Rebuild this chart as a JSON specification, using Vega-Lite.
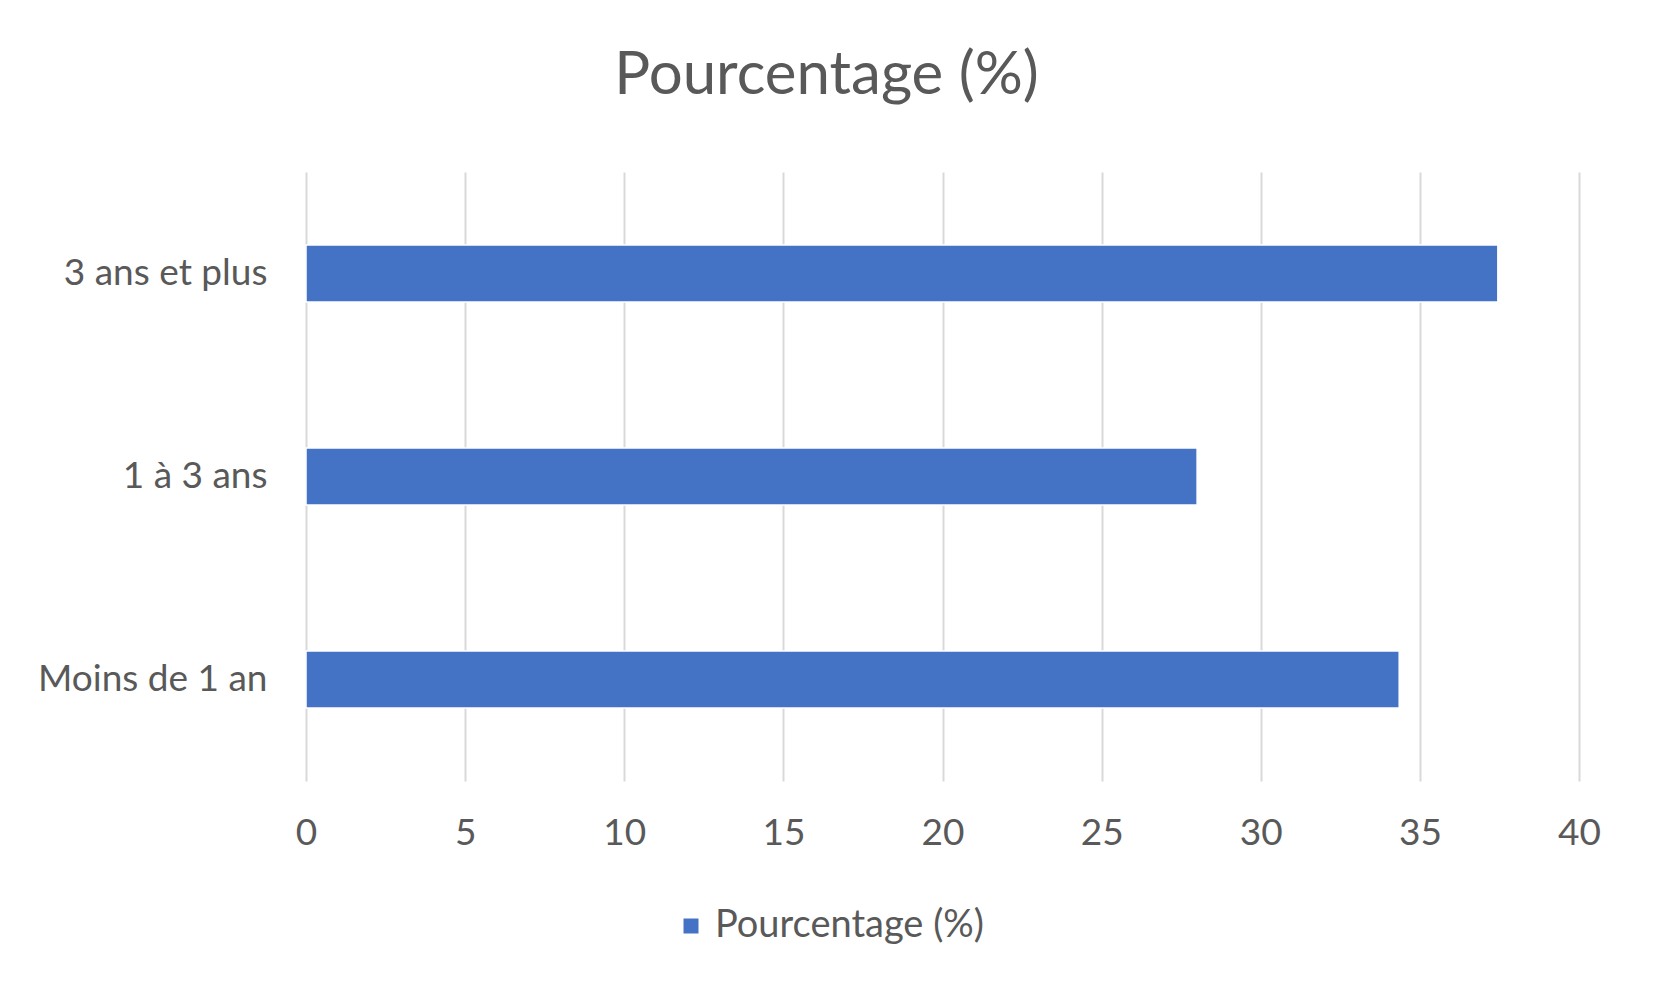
{
  "$schema": "https://vega.github.io/schema/vega-lite/v6.json",
  "width": 1273,
  "height": 609,
  "autosize": {"type": "none"},
  "padding": {"left": 306, "top": 172, "right": 74, "bottom": 212},
  "background": "white",
  "title": {
    "text": "Pourcentage (%)",
    "font": "Lato",
    "fontSize": 60,
    "fontWeight": "normal",
    "color": "#595959",
    "anchor": "middle",
    "frame": "group",
    "dx": -116,
    "offset": 65
  },
  "data": {
    "values": [
      {"categorie": "3 ans et plus", "pourcentage": 37.45, "serie": "Pourcentage (%)"},
      {"categorie": "1 à 3 ans", "pourcentage": 28.0, "serie": "Pourcentage (%)"},
      {"categorie": "Moins de 1 an", "pourcentage": 34.35, "serie": "Pourcentage (%)"}
    ]
  },
  "mark": {"type": "bar", "stroke": "white", "strokeWidth": 1.5},
  "encoding": {
    "y": {
      "field": "categorie",
      "type": "nominal",
      "sort": ["3 ans et plus", "1 à 3 ans", "Moins de 1 an"],
      "scale": {"paddingInner": 0.72, "paddingOuter": 0.36},
      "axis": {
        "title": null,
        "ticks": false,
        "domain": false,
        "grid": false,
        "labelFont": "Lato",
        "labelFontSize": 37,
        "labelColor": "#595959",
        "labelPadding": 39,
        "labelLimit": 0
      }
    },
    "x": {
      "field": "pourcentage",
      "type": "quantitative",
      "scale": {"domain": [0, 40], "nice": false},
      "axis": {
        "title": null,
        "values": [0, 5, 10, 15, 20, 25, 30, 35, 40],
        "ticks": false,
        "domain": false,
        "grid": true,
        "gridColor": "#d9d9d9",
        "gridWidth": 2,
        "labelFont": "Lato",
        "labelFontSize": 37,
        "labelColor": "#595959",
        "labelBaseline": "middle",
        "labelPadding": 52,
        "labelFlush": false
      }
    },
    "color": {
      "field": "serie",
      "type": "nominal",
      "scale": {"range": ["#4472C4"]},
      "legend": {
        "orient": "none",
        "legendX": 366,
        "legendY": 735,
        "title": null,
        "symbolType": "square",
        "symbolSize": 225,
        "symbolStrokeWidth": 0,
        "labelFont": "Lato",
        "labelFontSize": 38,
        "labelColor": "#595959",
        "labelOffset": 5,
        "labelLimit": 0
      }
    }
  },
  "config": {
    "view": {"stroke": null}
  }
}
